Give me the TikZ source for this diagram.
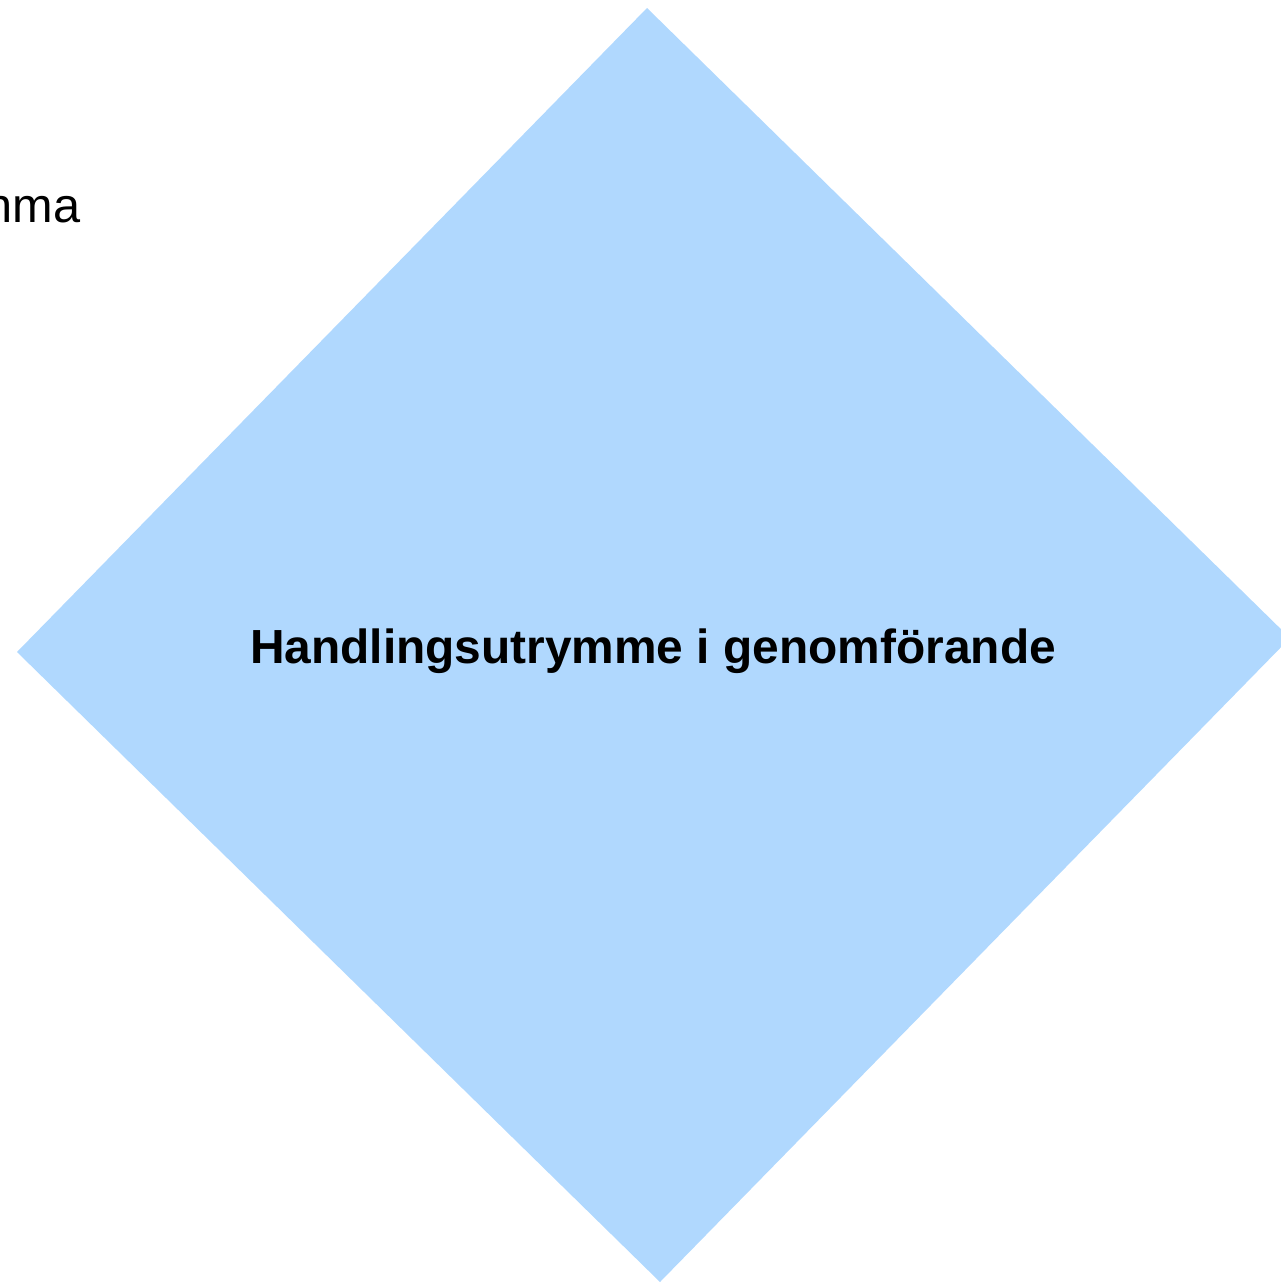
\documentclass[tikz,border=0pt]{standalone}
\usepackage{fontspec}
\setmainfont{Liberation Sans}
\definecolor{rutafarg}{RGB}{176,216,254}

\tikzset{every picture/.style={line width=0.75pt}}

\begin{document}
\begin{tikzpicture}[x=0.75pt,y=0.75pt,yscale=-1,xscale=1]
		\useasboundingbox (0,0) rectangle (1281,1282);
		
		%Shape: Diamond [id:ruta]
		\coordinate (topp) at (647,8);
		\coordinate (vanster) at (17,652);
		\coordinate (botten) at (660,1282);
		\coordinate (hoger) at (1290,638);
		\fill [rutafarg] (topp) -- (vanster) -- (botten) -- (hoger) -- cycle;
		
		% Text Node
		\draw (81,222) node (rest) [anchor=base east][inner sep=0pt]  {\fontsize{36.5}{44}\selectfont nma};
		% Text Node
		\draw (653,663) node (titel) [anchor=base][inner sep=0pt]  {\fontsize{35.9}{44}\selectfont\bfseries Handlingsutrymme i genomförande};
	\end{tikzpicture}
\end{document}
